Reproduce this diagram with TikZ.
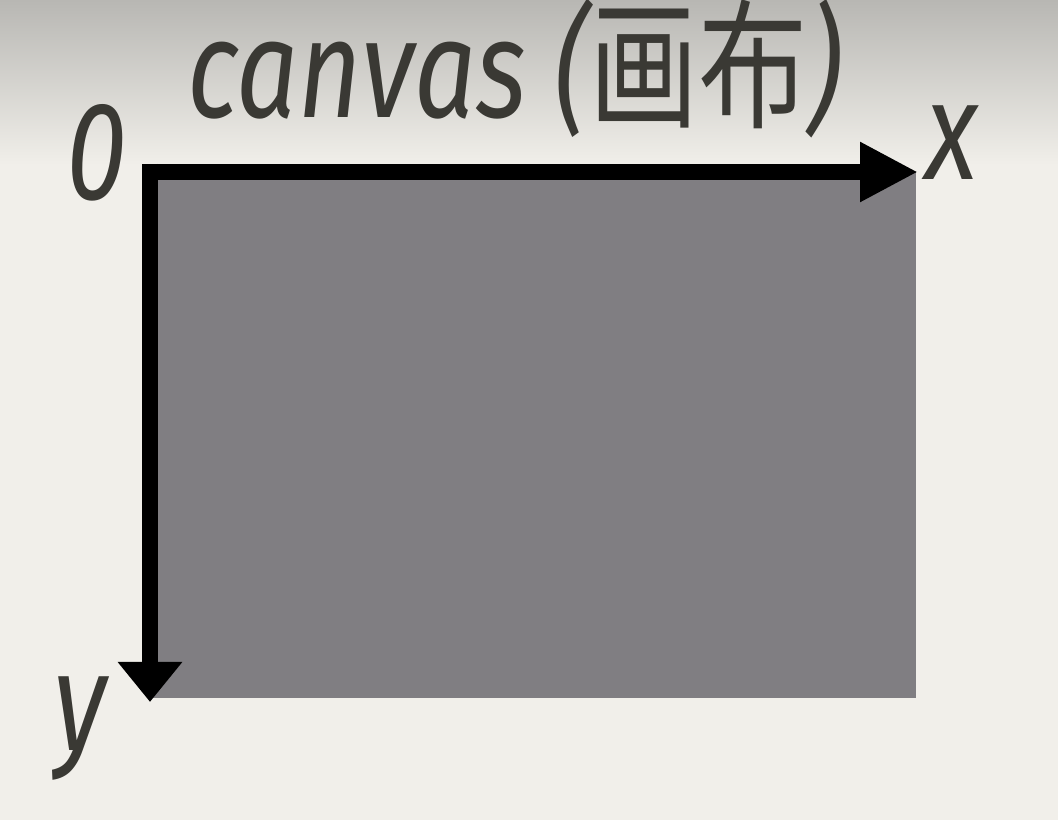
\documentclass[tikz,border=0pt]{standalone}
\usepackage{fontspec}
\setmainfont{Fira Sans}
\newfontfamily\cjk{Noto Sans CJK SC}
\usetikzlibrary{arrows.meta}
\definecolor{bgc}{HTML}{F1EFEA}
\definecolor{bgtop}{HTML}{B8B7B3}
\definecolor{canv}{HTML}{807E82}
\definecolor{txt}{HTML}{3A3934}
\tikzset{
  lbl/.style={inner sep=0pt, text=txt, xscale=0.78, anchor=base,
    font=\fontsize{140}{140}\selectfont\itshape},
  axis/.style={line width=16pt, black},
}
\begin{document}
\begin{tikzpicture}[x=1pt,y=1pt]
\useasboundingbox (0,0) rectangle (1058,820);
\fill[bgc] (0,0) rectangle (1058,820);
\shade[top color=bgtop, bottom color=bgc] (0,820) rectangle (1058,655);
\fill[canv] (150,122) rectangle (916,648);
\coordinate (o) at (150,648);
\coordinate (oh) at (142,648);
\coordinate (ov) at (150,656);
\coordinate (xe) at (918,648);
\coordinate (ye) at (150,118);
\draw[axis, -{Triangle[length=58pt,width=56pt]}] (oh) -- (xe);
\draw[axis, -{Triangle[length=40pt,width=62pt]}] (ov) -- (ye);
\node[lbl] (title) at (515,702) {canvas ({\cjk\upshape 画布})};
\node[lbl] (zero) at (97,620) {0};
\node[lbl] (xl) at (952,640) {x};
\node[lbl] (yl) at (80,70) {y};
\end{tikzpicture}
\end{document}
